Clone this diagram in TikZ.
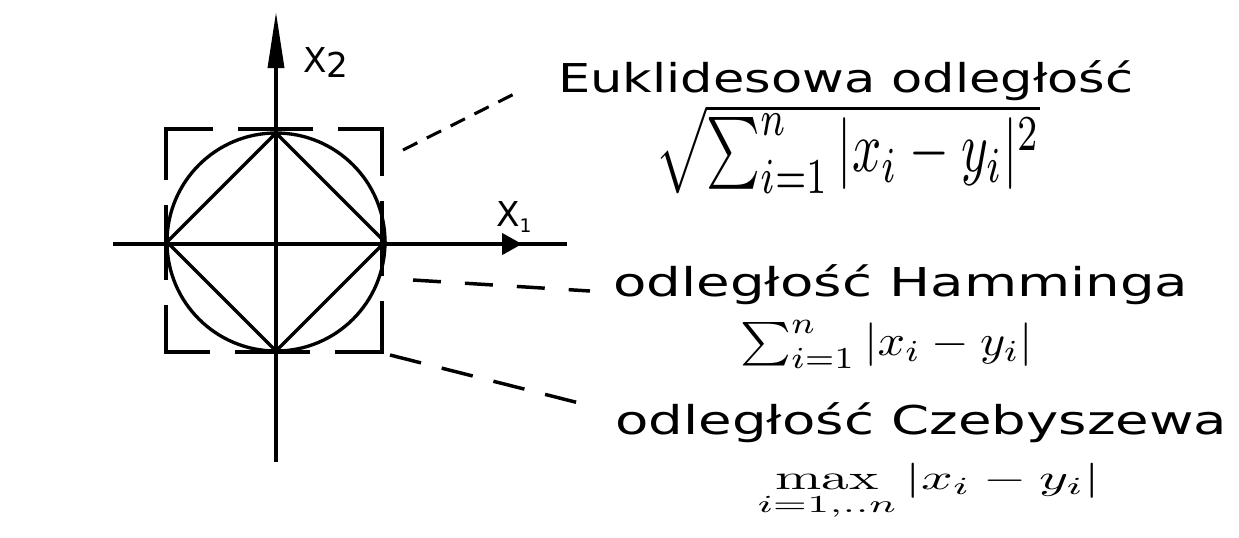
\documentclass[tikz,border=0pt]{standalone}
\usepackage{fontspec}
\usepackage{amsmath}
\usepackage{graphicx}
\usetikzlibrary{arrows.meta}
\newfontfamily\hand{DejaVu Sans}
\newlength\PX
\setlength\PX{0.75pt}
\newcommand\fitw[2]{\resizebox{#1}{\height}{#2}}
\begin{document}
\begin{tikzpicture}[x=0.75pt,y=-0.75pt,
  ax/.style={line width=2.6pt},
  curve/.style={line width=2.5pt},
  sqside/.style={line width=2.6pt, line cap=rect, dash pattern=on 34pt off 21pt on 54pt off 21pt on 40pt off 100pt},
  conE/.style={line width=2.3pt, dash pattern=on 12pt off 8pt},
  conH/.style={line width=2.6pt, dash pattern=on 21pt off 18pt},
  conC/.style={line width=2.6pt, dash pattern=on 24pt off 16pt},
  txt/.style={inner sep=0pt, font=\hand\fontsize{29.8pt}{36pt}\selectfont},
  lab/.style={inner sep=0pt, font=\hand\fontsize{25.7pt}{30pt}\selectfont},
  frm/.style={inner sep=0pt, anchor=north west},
]
\useasboundingbox (0,0) rectangle (1239,537);
\fill[white] (0,0) rectangle (1239,537);
% axes
\coordinate (O) at (276,244);
\coordinate (xl) at (113,244);
\coordinate (xr) at (567,244);
\coordinate (xa) at (522,244);
\coordinate (yt) at (276,12);
\coordinate (yb) at (276,462);
\draw[ax] (xl) -- (xr);
\draw[ax, -{Triangle[length=15pt,width=16pt]}] (O) -- (xa);
\draw[ax, -{Triangle[length=42pt,width=12pt]}] (yb) -- (yt);
% circle and diamond
\node[circle, draw, curve, minimum size=218\PX, inner sep=0pt, outer sep=0pt] (c) at (276,242) {};
\draw[curve, line join=miter] (c.north) -- (c.east) -- (c.south) -- (c.west) -- cycle;
% dashed square
\coordinate (s1) at (166,129);
\coordinate (s2) at (382,129);
\coordinate (s3) at (382,352);
\coordinate (s4) at (166,352);
\draw[sqside] (s1) -- (s2);
\draw[sqside] (s2) -- (s3);
\draw[sqside] (s3) -- (s4);
\draw[sqside] (s4) -- (s1);
% axis labels
\node[lab, anchor=base west] (x2) at (303,72) {X\raisebox{-4pt}{2}};
\node[lab, anchor=base west] (x1) at (496,226) {X\raisebox{-5pt}{\fontsize{14pt}{16pt}\selectfont 1}};
% texts
\node[txt, anchor=base west] (euk) at (558,92) {\fitw{575\PX}{Euklidesowa odległość}};
\node[frm] (feuk) at (655,104) {\resizebox*{385\PX}{89\PX}{$\sqrt{\sum_{i=1}^{n}|x_i-y_i|^2}$}};
\node[txt, anchor=base west] (ham) at (613,296) {\fitw{575\PX}{odległość Hamminga}};
\node[frm] (fham) at (740,320) {\resizebox*{293\PX}{48\PX}{$\sum_{i=1}^{n}|x_i-y_i|$}};
\node[txt, anchor=base west] (che) at (615,434) {\fitw{612\PX}{odległość Czebyszewa}};
\node[frm] (fche) at (757,463) {\resizebox*{343\PX}{57\PX}{$\max\limits_{i=1,..n}|x_i-y_i|$}};
% connectors
\coordinate (e1) at (403,150);
\coordinate (e2) at (522,90);
\coordinate (h1) at (413,280);
\coordinate (h2) at (590,291);
\coordinate (k1) at (390,355);
\coordinate (k2) at (587,405);
\draw[conE] (e1) -- (e2);
\draw[conH] (h1) -- (h2);
\draw[conC] (k1) -- (k2);
\end{tikzpicture}
\end{document}
